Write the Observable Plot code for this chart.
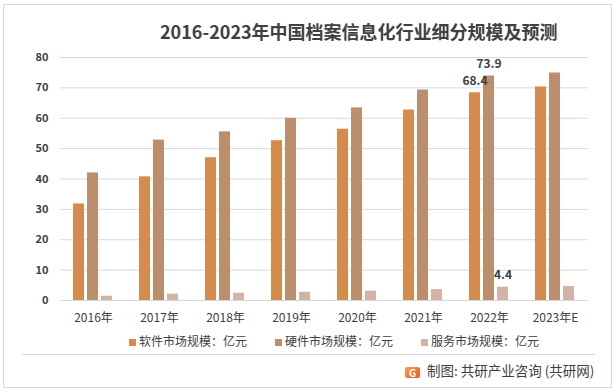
<!DOCTYPE html>
<html>
<head>
<meta charset="utf-8">
<script src="https://cdn.jsdelivr.net/npm/d3@7"></script>
<script src="https://cdn.jsdelivr.net/npm/@observablehq/plot@0.6"></script>
<style>
  html, body { margin: 0; padding: 0; background: #fff; }
  body { font-family: "Noto Sans CJK SC", "Noto Sans", sans-serif; color: #404040; }
  #wrap { position: relative; width: 615px; height: 391px; overflow: hidden; }
  #frame { position: absolute; left: 3px; top: 4px; width: 607px; height: 382px; border: 1px solid #d9d9d9; pointer-events: none; }
  #title { box-sizing: border-box; height: 45px; padding-top: 21px; line-height: 20px; font-size: 18px; font-weight: bold; color: #404040; white-space: nowrap; padding-left: 160px; }
  #chart { height: 285px; }
  #legend { height: 22px; line-height: 22px; font-size: 12px; color: #404040; white-space: nowrap; padding-left: 129px; }
  .item { display: inline-block; width: 146px; }
  .sw { display: inline-block; width: 7px; height: 7px; margin-right: 3px; vertical-align: 0px; }
  #sep { margin-top: 2px; margin-left: 22px; width: 573px; height: 1px; background: #d9d9d9; }
  #caption { height: 30px; line-height: 30px; font-size: 13.5px; color: #404040; white-space: nowrap; padding-left: 405px; }
  .logo { display: inline-block; width: 15px; height: 11px; margin-right: 7px; vertical-align: -1px; border-radius: 2px;
          background: linear-gradient(135deg, #f7a24f, #e9572b); color: #fff; font-size: 10px; line-height: 11px; text-align: center; font-weight: bold; }
</style>
</head>
<body>
<div id="wrap">
  <div id="frame"></div>
  <div id="title"></div>
  <div id="chart"></div>
  <div id="legend"></div>
  <div id="sep"></div>
  <div id="caption"><span class="logo">G</span><span id="captext"></span></div>
</div>
<script>
// ---- data ----
const titleText = "2016-2023年中国档案信息化行业细分规模及预测";
const years = ["2016年", "2017年", "2018年", "2019年", "2020年", "2021年", "2022年", "2023年E"];
const seriesNames = ["软件市场规模：亿元", "硬件市场规模：亿元", "服务市场规模：亿元"];
const software = [31.8, 40.7, 47.0, 52.6, 56.4, 62.7, 68.4, 70.3];
const hardware = [42.0, 52.8, 55.5, 60.0, 63.4, 69.3, 73.9, 74.9];
const service  = [1.4, 2.1, 2.4, 2.7, 3.1, 3.6, 4.4, 4.6];
const yTicks = [0, 10, 20, 30, 40, 50, 60, 70, 80];
const labeledYear = "2022年";
const colors = ["#D48B4E", "#BB8E6D", "#D3B3A8"];
const captionText = "制图: 共研产业咨询 (共研网)";

// ---- build table ----
const seriesValues = [software, hardware, service];
const table = years.flatMap((yr, i) => seriesNames.map((s, j) => ({year: yr, series: s, value: seriesValues[j][i]})));

document.getElementById("title").textContent = titleText;
document.getElementById("captext").textContent = captionText;

const legend = document.getElementById("legend");
seriesNames.forEach((s, j) => {
  const it = document.createElement("span");
  it.className = "item";
  const sw = document.createElement("span");
  sw.className = "sw";
  sw.style.background = colors[j];
  it.appendChild(sw);
  it.appendChild(document.createTextNode(s));
  legend.appendChild(it);
});

const chart = Plot.plot({
  width: 615,
  height: 285,
  marginTop: 12,
  marginBottom: 30,
  marginLeft: 57,
  marginRight: 25,
  style: {fontFamily: '"Noto Sans CJK SC", "Noto Sans", sans-serif', background: "transparent", overflow: "visible"},
  fx: {domain: years, padding: 0, label: null},
  x: {domain: seriesNames, axis: null, paddingInner: 0.2, paddingOuter: 0.822},
  y: {domain: [0, 80], label: null},
  color: {domain: seriesNames, range: colors},
  marks: [
    Plot.ruleY(yTicks, {stroke: "#d9d9d9", strokeWidth: 1}),
    Plot.barY(table, {fx: "year", x: "series", y: "value", fill: "series"}),
    Plot.text(table.filter(d => d.year === labeledYear), {
      fx: "year", x: "series", y: "value", text: d => d.value.toFixed(1),
      dy: -12, fontSize: 12, fontWeight: "bold", fill: "#404040"
    }),
    Plot.axisY({ticks: yTicks, tickSize: 0, tickPadding: 12, fontSize: 11, fontWeight: "bold", fill: "#404040", label: null}),
    Plot.axisFx({anchor: "bottom", tickSize: 0, tickPadding: 13, fontSize: 12, fill: "#404040", label: null})
  ]
});
document.getElementById("chart").appendChild(chart);
</script>
</body>
</html>
